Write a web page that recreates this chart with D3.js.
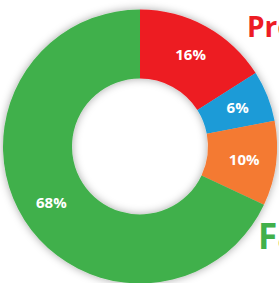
<!DOCTYPE html>
<html>
<head>
<meta charset="utf-8">
<script src="https://cdn.jsdelivr.net/npm/d3@7"></script>
<style>
  html, body { margin: 0; padding: 0; background: #fff; overflow: hidden; }
  svg { display: block; }
</style>
</head>
<body>
<svg id="chart"></svg>
<script>
const width = 279;
const height = 283;

// donut values, clockwise from 12 o'clock
const categories = ["Protein", "Carbs", "Sugar", "Fat"];
const values = [16, 6, 10, 68];
const colors = ["#ed1c24", "#1a9bd7", "#f47a32", "#41b04b"];

// big side titles (cut off by the frame in the original)
const sideLabels = ["Protein", "Fat"];
const sideColors = ["#ed1c24", "#41b04b"];

const cx = 140, cy = 146.5;
const outerR = 137, innerR = 68;

const svg = d3.select("#chart")
  .attr("width", width)
  .attr("height", height)
  .attr("viewBox", `0 0 ${width} ${height}`);

svg.append("rect")
  .attr("width", width)
  .attr("height", height)
  .attr("fill", "#fff");

// soft grey glow round the ring
const defs = svg.append("defs");
defs.append("filter")
  .attr("id", "glow")
  .attr("x", "-20%").attr("y", "-20%")
  .attr("width", "140%").attr("height", "140%")
  .append("feDropShadow")
  .attr("dx", 0).attr("dy", 0)
  .attr("stdDeviation", 4)
  .attr("flood-color", "#000")
  .attr("flood-opacity", 0.35);

const pie = d3.pie().sort(null).value(d => d);
const arc = d3.arc().innerRadius(innerR).outerRadius(outerR);
const labelArc = d3.arc().innerRadius(105).outerRadius(105);

const g = svg.append("g").attr("transform", `translate(${cx},${cy})`);

const ring = g.append("g").attr("filter", "url(#glow)");
ring.selectAll("path")
  .data(pie(values))
  .enter()
  .append("path")
  .attr("d", arc)
  .attr("fill", (d, i) => colors[i]);

g.selectAll("text.pct")
  .data(pie(values))
  .enter()
  .append("text")
  .attr("class", "pct")
  .attr("transform", d => `translate(${labelArc.centroid(d)})`)
  .attr("text-anchor", "middle")
  .attr("dy", "0.36em")
  .attr("fill", "#fff")
  .style("font-family", "'Open Sans', sans-serif")
  .style("font-weight", 700)
  .style("font-size", "15px")
  .text(d => d.data + "%");

// side titles
svg.append("text")
  .attr("x", 247)
  .attr("y", 37)
  .attr("fill", sideColors[0])
  .style("font-family", "'Open Sans', sans-serif")
  .style("font-weight", 700)
  .style("font-size", "28px")
  .text(sideLabels[0]);

svg.append("text")
  .attr("x", 258)
  .attr("y", 249)
  .attr("fill", sideColors[1])
  .style("font-family", "'Open Sans', sans-serif")
  .style("font-weight", 700)
  .style("font-size", "35px")
  .text(sideLabels[1]);
</script>
</body>
</html>
